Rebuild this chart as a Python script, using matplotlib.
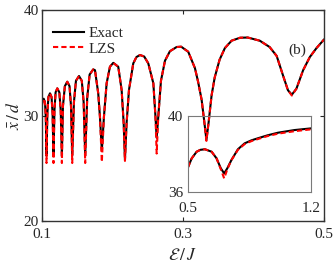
import matplotlib
matplotlib.use("Agg")
import matplotlib.pyplot as plt

# ---- data ----
E_main = [0.1000, 0.1024, 0.1042, 0.1054, 0.1064, 0.1076, 0.1091, 0.1113, 0.11355, 0.11505,
          0.1163, 0.11765, 0.1193, 0.1217, 0.12463, 0.12658, 0.1282, 0.12973, 0.13244, 0.1359,
          0.13905, 0.14115, 0.1429, 0.1453, 0.14818, 0.1525, 0.15646, 0.1591, 0.1613, 0.16415,
          0.16757, 0.1727, 0.1752, 0.1798, 0.1822, 0.1849, 0.1879, 0.1917, 0.1964, 0.2011,
          0.2082, 0.2130, 0.2159, 0.2177, 0.2200, 0.2234, 0.2295, 0.2340, 0.2390, 0.2450,
          0.2508, 0.2580, 0.2610, 0.2627, 0.2650, 0.2688, 0.2745, 0.2815, 0.2910, 0.2975,
          0.3075, 0.3170, 0.3215, 0.3265, 0.3305, 0.3333, 0.3365, 0.3406, 0.3450, 0.3520,
          0.3595, 0.3690, 0.3810, 0.3920, 0.4090, 0.4230, 0.4330, 0.4420, 0.4490, 0.4545,
          0.4610, 0.4705, 0.4800, 0.4895, 0.5000]
exact_main = [31.3, 31.6, 31.28, 29.82, 26.2, 30.16, 31.76, 32.11, 31.76, 30.16,
              26.2, 30.47, 32.2, 32.58, 32.2, 30.47, 26.2, 30.9, 32.79, 33.21,
              32.79, 30.9, 26.2, 31.26, 33.3, 33.75, 33.3, 31.26, 26.2, 31.68,
              33.89, 34.38, 34.3, 32.1, 29.9, 26.7, 29.9, 33.06, 34.63, 35.0,
              34.63, 32.42, 29.26, 25.8, 29.26, 32.42, 34.95, 35.55, 35.74, 35.6,
              34.95, 33.06, 29.9, 27.9, 29.9, 33.3, 35.2, 36.1, 36.5, 36.53,
              36.05, 34.5, 33.2, 31.5, 29.3, 27.7, 29.4, 31.9, 33.6, 35.3,
              36.4, 37.1, 37.38, 37.4, 37.1, 36.5, 35.65, 33.8, 32.4, 31.98,
              32.55, 34.3, 35.55, 36.4, 37.2]
lzs_main = [31.0, 31.6, 31.28, 29.82, 25.5, 30.16, 31.76, 32.11, 31.76, 30.16,
            25.5, 30.47, 32.2, 32.58, 32.2, 30.47, 25.5, 30.9, 32.79, 33.21,
            32.79, 30.9, 25.5, 31.26, 33.3, 33.75, 33.3, 31.26, 25.5, 31.68,
            33.89, 34.38, 34.3, 32.1, 29.9, 25.6, 29.9, 33.06, 34.63, 35.0,
            34.63, 32.42, 29.26, 25.7, 29.26, 32.42, 34.95, 35.55, 35.74, 35.6,
            34.95, 33.06, 29.9, 26.4, 29.9, 33.3, 35.2, 36.1, 36.5, 36.53,
            36.05, 34.5, 33.2, 31.5, 29.3, 27.6, 29.4, 31.9, 33.6, 35.3,
            36.4, 37.1, 37.38, 37.4, 37.1, 36.5, 35.65, 33.8, 32.4, 31.9,
            32.55, 34.3, 35.55, 36.4, 37.2]

E_inset = [0.500, 0.521, 0.549, 0.570, 0.596, 0.634, 0.662, 0.686, 0.705, 0.723,
           0.746, 0.783, 0.821, 0.860, 0.897, 0.950, 1.010, 1.104, 1.200]
exact_inset = [37.3, 37.77, 38.12, 38.22, 38.25, 38.12, 37.77, 37.25, 36.98, 37.25,
               37.68, 38.25, 38.56, 38.72, 38.83, 38.98, 39.12, 39.26, 39.35]
lzs_inset = [37.3, 37.77, 38.12, 38.22, 38.25, 38.12, 37.77, 37.2, 36.72, 37.2,
             37.68, 38.22, 38.52, 38.68, 38.79, 38.94, 39.07, 39.2, 39.3]

main_xticks = [0.1, 0.3, 0.5]
main_yticks = [20, 30, 40]
inset_xticks = [0.5, 1.2]
inset_yticks = [36, 40]

# ---- style ----
plt.rcParams['font.family'] = ['Liberation Serif', 'DejaVu Serif']
plt.rcParams['mathtext.fontset'] = 'stix'
plt.rcParams['font.size'] = 11
txtc = '#262626'

fig = plt.figure(figsize=(3.36, 2.66), dpi=100)
ax = fig.add_axes([0.125, 0.169, 0.839, 0.793])

ax.plot(E_main, exact_main, color='black', lw=1.5, label='Exact')
ax.plot(E_main, lzs_main, color='red', lw=1.5, dashes=(2.5, 1.5), label='LZS')
ax.set_xlim(0.1, 0.5)
ax.set_ylim(20, 40)
ax.set_xticks(main_xticks)
ax.set_xticklabels(['0.1', '0.3', '0.5'])
ax.set_yticks(main_yticks)
ax.tick_params(direction='in', top=True, right=True, length=3, width=0.8,
               colors=txtc, labelsize=11)
ax.tick_params(axis='x', pad=5)
ax.tick_params(axis='y', pad=2.5)
for s in ax.spines.values():
    s.set_color('#333333')
    s.set_linewidth(1.0)
ax.set_xlabel(r'$\mathcal{E}\,/\,J$', fontsize=12.5, color=txtc, labelpad=5)
ax.set_ylabel(r'$\bar{x}\,/\,d$', fontsize=12.5, color=txtc, labelpad=0)
ax.text(0.462, 36.2, '(b)', fontsize=11, color=txtc, ha='center', va='center')
leg = ax.legend(loc='upper left', frameon=False, handlelength=2.0, handletextpad=0.3,
                labelspacing=0.12, borderpad=0, borderaxespad=0,
                bbox_to_anchor=(0.039, 0.922), fontsize=11)
for t in leg.get_texts():
    t.set_color(txtc)

ins = fig.add_axes([0.5595, 0.278, 0.3675, 0.286])
ins.patch.set_alpha(0)
ins.plot(E_inset, exact_inset, color='black', lw=1.5)
ins.plot(E_inset, lzs_inset, color='red', lw=1.5, dashes=(2.5, 1.5))
ins.set_xlim(0.5, 1.2)
ins.set_ylim(36, 40)
ins.set_xticks(inset_xticks)
ins.set_xticklabels(['0.5', '1.2'])
ins.set_yticks(inset_yticks)
ins.tick_params(direction='in', length=2, width=0.6, colors=txtc, labelsize=11)
ins.tick_params(axis='x', pad=7)
ins.tick_params(axis='y', pad=3.5)
for s in ins.spines.values():
    s.set_color('#7a7a7a')
    s.set_linewidth(0.8)

fig.savefig('out.png', dpi=100)
